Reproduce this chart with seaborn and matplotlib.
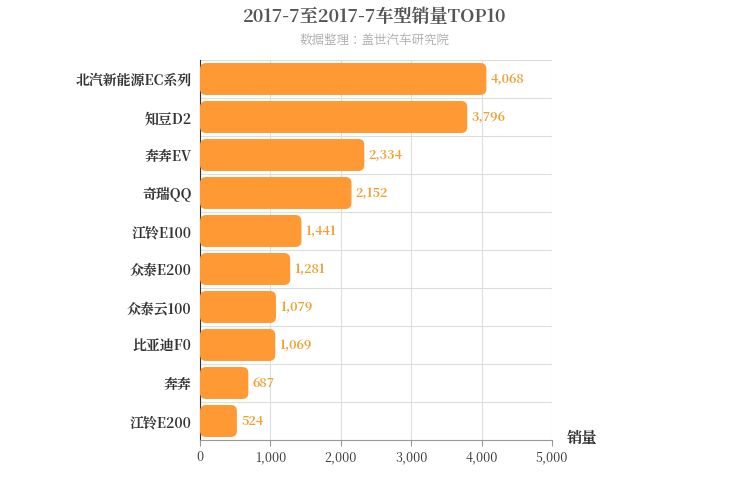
import matplotlib
matplotlib.use("Agg")
import matplotlib.pyplot as plt
import seaborn as sns
import pandas as pd
from matplotlib.patches import FancyBboxPatch
from matplotlib import font_manager as fm

cjk = None
for f in fm.fontManager.ttflist:
    if "CJK SC" in f.name or "CJK" in f.name:
        cjk = f.name
        if "SC" in f.name:
            break
plt.rcParams['font.family'] = 'sans-serif'
plt.rcParams['font.sans-serif'] = [n for n in [cjk, 'Noto Sans CJK SC', 'Noto Sans CJK JP', 'DejaVu Sans'] if n]

models = ["北汽新能源EC系列", "知豆D2", "奔奔EV", "奇瑞QQ", "江铃E100", "众泰E200", "众泰云100", "比亚迪F0", "奔奔", "江铃E200"]
sales = [4068, 3796, 2334, 2152, 1441, 1281, 1079, 1069, 687, 524]
df = pd.DataFrame({"model": models, "sales": sales})

fig = plt.figure(figsize=(7.5, 5), dpi=100)
ax = fig.add_axes([200/750, 60/500, 352/750, 380/500])
sns.barplot(data=df, x="sales", y="model", color="#FF9933", width=0.84, ax=ax, zorder=3)

rx = 6 * 5000 / 352
ry = 6 / 38
for p in list(ax.patches):
    x, y, w, h = p.get_x(), p.get_y(), p.get_width(), p.get_height()
    fb = FancyBboxPatch((x, y), w, h, boxstyle=f"round,pad=0,rounding_size={rx}",
                        mutation_aspect=ry / rx, facecolor="#FF9933", edgecolor="none", zorder=3)
    p.remove()
    ax.add_patch(fb)

for i, v in enumerate(sales):
    ax.text(v + 60, i, f"{v:,}", va="center", ha="left", color="#F0A030", fontsize=9, fontweight="bold")

ax.set_xlim(0, 5000)
ax.set_ylim(9.5, -0.5)
ax.set_xticks(range(0, 5001, 1000))
ax.set_xticklabels([f"{t:,}" for t in range(0, 5001, 1000)], fontsize=9, color="#333333")
ax.tick_params(axis="y", length=0, labelsize=10, pad=6)
for lab in ax.get_yticklabels():
    lab.set_fontweight("bold")
    lab.set_color("#333333")
ax.tick_params(axis="x", length=4, color="#999999")
ax.set_xlabel("")
ax.set_ylabel("")
ax.grid(axis="x", color="#DDDDDD", lw=0.8, zorder=0)
for yy in [i + 0.5 for i in range(-1, 10)]:
    ax.axhline(yy, color="#DDDDDD", lw=0.8, zorder=0)
for s in ["top", "right"]:
    ax.spines[s].set_visible(False)
ax.spines["bottom"].set_color("#999999")
ax.spines["left"].set_color("#333333")

fig.text(0.5, 0.965, "2017-7至2017-7车型销量TOP10", ha="center", va="center", fontsize=13, fontweight="bold", color="#555555")
fig.text(0.5, 0.918, "数据整理：盖世汽车研究院", ha="center", va="center", fontsize=9, color="#AAAAAA")
fig.text(582/750, 1 - 438/500, "销量", ha="center", va="center", fontsize=11, fontweight="bold", color="#333333")

fig.savefig("out.png", dpi=100)
